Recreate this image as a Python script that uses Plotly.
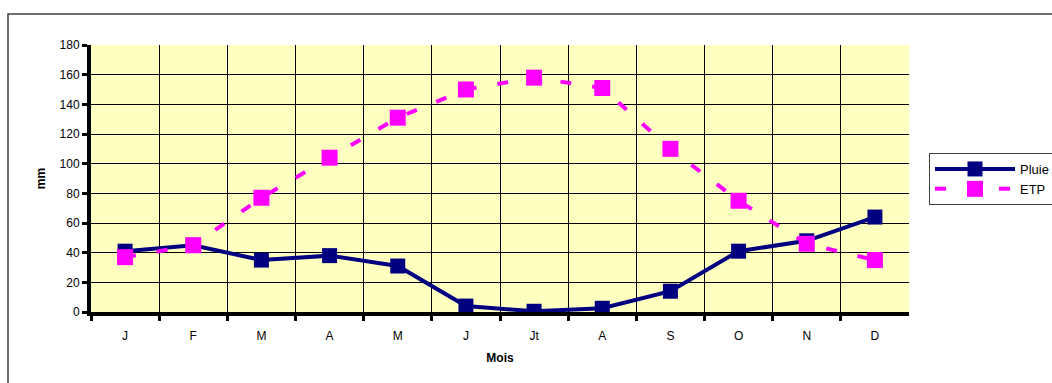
import plotly.graph_objects as go

months = ["J", "F", "M", "A", "M", "J", "Jt", "A", "S", "O", "N", "D"]
pluie = [41, 45, 35, 38, 31, 4, 0.5, 2.5, 14, 41, 48, 64]
etp = [37, 45, 77, 104, 131, 150, 158, 151, 110, 75, 46, 35]

idx = list(range(len(months)))
bounds = [i - 0.5 for i in range(len(months))]

fig = go.Figure()
fig.add_trace(go.Scatter(
    x=idx, y=pluie, name="Pluie", mode="lines+markers",
    line=dict(color="#000080", width=4),
    marker=dict(symbol="square", size=15, color="#000080"),
))
fig.add_trace(go.Scatter(
    x=idx, y=etp, name="ETP", mode="lines+markers",
    line=dict(color="#FF00FF", width=4, dash="11px,21px"),
    marker=dict(symbol="square", size=16, color="#FF00FF"),
))

L, R, T, B = 91, 909, 45, 312
W, H = 1052, 383
pw, ph = R - L, B - T

def px(x):
    return (x - L) / pw

def py(y):
    return (B - y) / ph

fig.update_layout(
    width=W, height=H,
    margin=dict(l=L, r=W - R, t=T, b=H - B, pad=0, autoexpand=False),
    paper_bgcolor="white",
    plot_bgcolor="#FFFFC0",
    font=dict(family="Liberation Sans, Arial, sans-serif", size=12, color="black"),
    showlegend=True,
    legend=dict(
        x=px(929), y=py(153), xanchor="left", yanchor="top",
        bgcolor="white", bordercolor="#404040", borderwidth=1,
        font=dict(size=13), itemwidth=80, tracegroupgap=0,
    ),
    shapes=[
        dict(type="rect", xref="paper", yref="paper",
             x0=px(8), x1=px(1100), y0=py(430), y1=py(14),
             line=dict(color="#404040", width=1.5), layer="below"),
    ],
)

fig.update_xaxes(
    range=[-0.5, len(months) - 0.5],
    tickmode="array", tickvals=idx, ticktext=months,
    ticks="", showgrid=False, zeroline=False,
    showline=True, linecolor="black", linewidth=4,
    ticklabelstandoff=10, tickfont=dict(size=12),
    minor=dict(tickmode="array", tickvals=bounds,
               ticks="outside", ticklen=5, tickwidth=3, tickcolor="black",
               showgrid=True, gridcolor="black", gridwidth=1),
    title=dict(text="<b>Mois</b>", font=dict(size=12), standoff=12),
)
fig.update_yaxes(
    range=[0, 180], dtick=20, tick0=0,
    ticks="outside", ticklen=5, tickwidth=3, tickcolor="black",
    showline=True, linecolor="black", linewidth=4,
    showgrid=True, gridcolor="black", gridwidth=1, zeroline=False,
    tickfont=dict(size=12),
    title=dict(text="<b>mm</b>", font=dict(size=12), standoff=12),
)

fig.write_html("out.html")
